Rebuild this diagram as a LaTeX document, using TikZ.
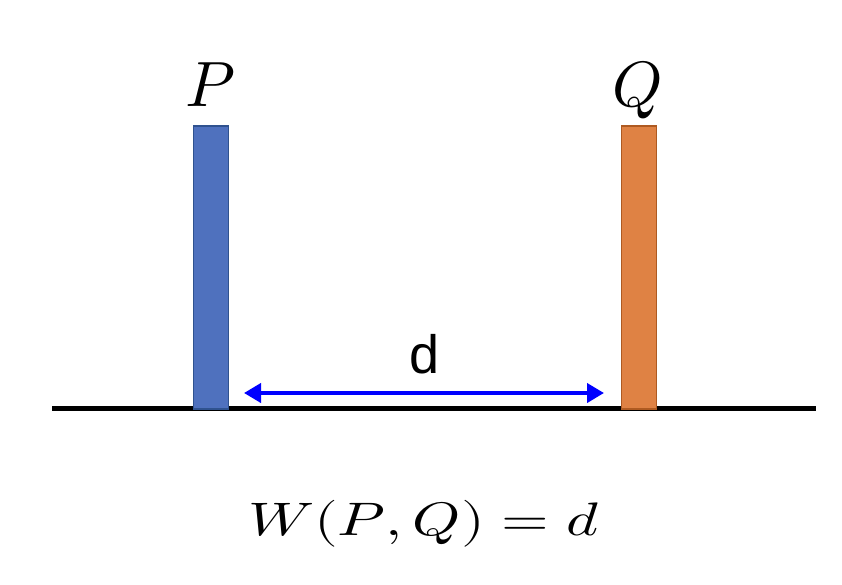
\documentclass[tikz,border=0pt]{standalone}
\usepackage{fontspec}
\usepackage{unicode-math}
\setmathfont{Latin Modern Math}
\newfontfamily\labelsans{Liberation Sans}
\usetikzlibrary{arrows.meta}
\definecolor{barblue}{HTML}{4F71BE}
\definecolor{barblueedge}{HTML}{2F528F}
\definecolor{barorange}{HTML}{DF8244}
\definecolor{barorangeedge}{HTML}{AE5A21}
\definecolor{arrowblue}{HTML}{0000FF}
\tikzset{
  bar/.style={draw, line width=1.5pt, minimum width=35pt, minimum height=283pt, inner sep=0pt, anchor=south},
  barp/.style={bar, fill=barblue, draw=barblueedge},
  barq/.style={bar, fill=barorange, draw=barorangeedge},
  ground/.style={line width=5pt, black},
  dist/.style={line width=4pt, arrowblue, {Triangle[length=17pt,width=19pt]}-{Triangle[length=17pt,width=19pt]}},
  distlabel/.style={font=\labelsans\fontsize{54}{60}\selectfont, anchor=base, inner sep=0pt},
  barlabel/.style={font=\fontsize{64}{70}\selectfont, anchor=base, inner sep=0pt},
  formula/.style={font=\fontsize{47}{54}\selectfont, anchor=base, inner sep=0pt}
}
\begin{document}
\begin{tikzpicture}[x=1pt,y=-1pt]
\useasboundingbox (0,0) rectangle (842,584);
\coordinate (gl) at (52,408);
\coordinate (gr) at (816,408);
\draw[ground] (gl) -- (gr);
\node[barp] (barP) at (211,409.5) {};
\node[barq] (barQ) at (639,409.5) {};
\node[barlabel] (labP) at (211,106) {$P$};
\node[barlabel] (labQ) at (638,106) {$Q$};
\coordinate (al) at (244,393);
\coordinate (ar) at (604,393);
\draw[dist] (al) -- (ar);
\node[distlabel] (labd) at (425,373) {d};
\node[formula] (eq) at (424,535) {\scalebox{1.3}[1]{$W(P,Q)=d$}};
\end{tikzpicture}
\end{document}
